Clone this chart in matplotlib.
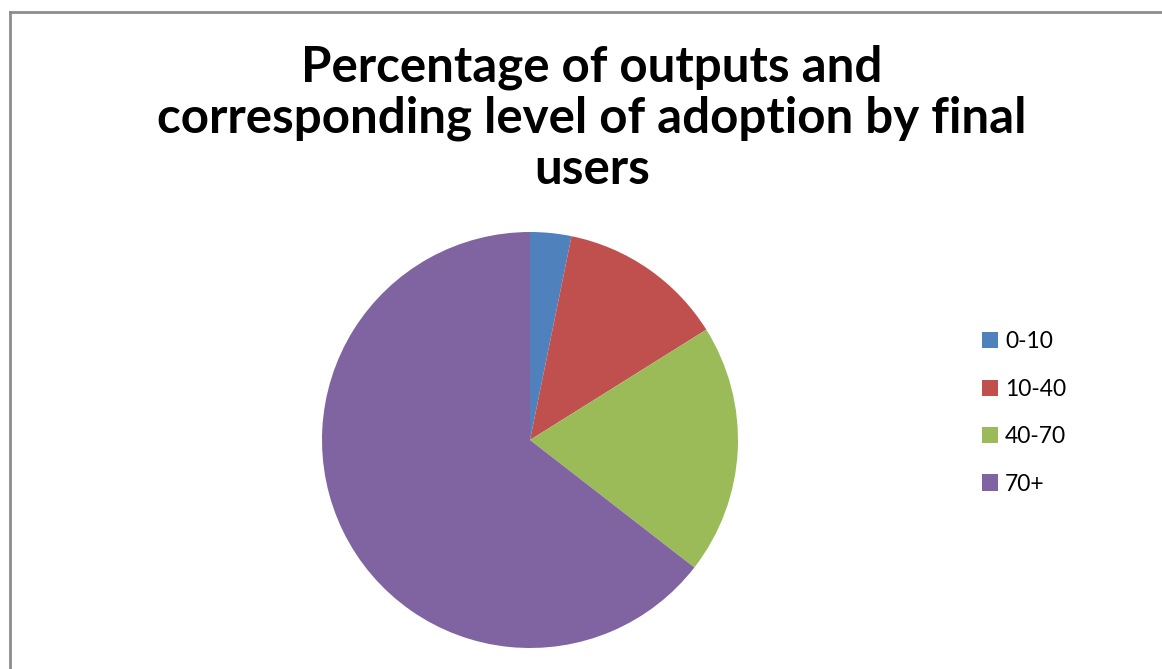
import matplotlib.pyplot as plt
from matplotlib.lines import Line2D
from matplotlib.patches import Patch

# Data
labels = ['0-10', '10-40', '40-70', '70+']
shares = [3.2, 12.9, 19.4, 64.5]
colors = ['#4F81BD', '#C0504D', '#9BBB59', '#8064A2']

W, H = 1162, 669
fig = plt.figure(figsize=(W / 100, H / 100), dpi=100)

# pie axes placed by pixel box
cx, cy, r = 530, 440, 208
ax = fig.add_axes([(cx - r) / W, (H - cy - r) / H, 2 * r / W, 2 * r / H])
ax.pie(shares, colors=colors, startangle=90, counterclock=False,
       wedgeprops=dict(linewidth=0))
ax.set_xlim(-1, 1)
ax.set_ylim(-1, 1)
ax.set_aspect('equal')

# title
fig.text(592 / W, 1 - 118 / H,
         'Percentage of outputs and\ncorresponding level of adoption by final\nusers',
         ha='center', va='center', fontsize=35.5, fontweight='bold',
         family='Lato', linespacing=1.15)

# legend
handles = [Patch(facecolor=c, edgecolor='none') for c in colors]
fig.legend(handles, labels, loc='center left', bbox_to_anchor=(973 / W, 1 - 413 / H),
           frameon=False, prop={'family': 'Lato', 'size': 16.5},
           handlelength=0.7, handleheight=0.7, handletextpad=0.3,
           labelspacing=1.15, borderaxespad=0)

# chart border (left and top edges visible)
fig.add_artist(Line2D([10 / W, 10 / W], [0, 1 - 12 / H], transform=fig.transFigure,
                      color='#8c8c8c', linewidth=2))
fig.add_artist(Line2D([10 / W, 1], [1 - 12 / H, 1 - 12 / H], transform=fig.transFigure,
                      color='#8c8c8c', linewidth=2))

fig.savefig('out.png', dpi=100, facecolor='white')
